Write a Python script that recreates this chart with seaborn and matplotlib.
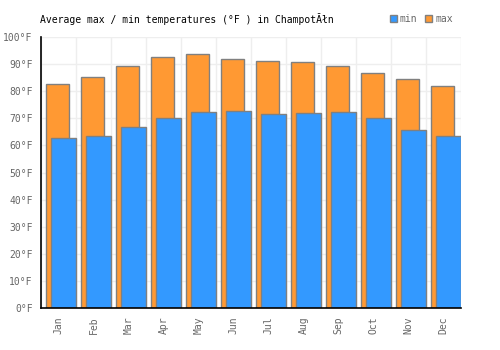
import numpy as np
import matplotlib
matplotlib.use("Agg")
import matplotlib.pyplot as plt
import seaborn as sns
from matplotlib.patches import Patch

months = ['Jan', 'Feb', 'Mar', 'Apr', 'May', 'Jun', 'Jul', 'Aug', 'Sep', 'Oct', 'Nov', 'Dec']
maxTemps = [82.7, 85.3, 89.3, 92.6, 93.6, 92.1, 91.0, 90.7, 89.2, 86.8, 84.5, 82.0]
minTemps = [62.7, 63.5, 66.9, 70.1, 72.2, 72.9, 71.5, 71.8, 72.2, 70.1, 65.8, 63.6]
yTicks = [0, 10, 20, 30, 40, 50, 60, 70, 80, 90, 100]

orange = '#ff9933'
blue = '#3399ff'
edge = '#808080'
textGray = '#666666'

sns.set_style("white")
plt.rcParams['font.family'] = ['DejaVu Sans Mono', 'DejaVu Sans']

fig = plt.figure(figsize=(5, 3.5), dpi=100)
ax = fig.add_axes([0.082, 0.12, 0.84, 0.774])

sns.barplot(x=months, y=maxTemps, color=orange, width=0.67, ax=ax,
            edgecolor=edge, linewidth=1, saturation=1)
nMax = len(ax.patches)
sns.barplot(x=months, y=minTemps, color=blue, width=0.71, ax=ax,
            edgecolor=edge, linewidth=1, saturation=1)
# shift the max bars slightly left and the min bars right so they overlap
for p in ax.patches[:nMax]:
    p.set_x(p.get_x() - 0.025)
for p in ax.patches[nMax:]:
    p.set_x(p.get_x() + 0.14)

ax.set_xlim(-0.5, 11.5)
ax.set_ylim(0, 100)
ax.set_yticks(yTicks)
ax.set_yticklabels([f'{t}°F' for t in yTicks])
ax.set_xticks(range(12))
ax.set_xticklabels(months, rotation=90)
ax.tick_params(axis='both', length=0, labelsize=7, colors=textGray, pad=6)

ax.set_axisbelow(True)
ax.grid(True, color='#eeeeee', linewidth=1)
ax.set_xticks(np.arange(-0.5, 12, 1), minor=True)
ax.xaxis.grid(False, which='major')
ax.xaxis.grid(True, which='minor', color='#eeeeee', linewidth=1)
ax.tick_params(axis='x', which='minor', length=0)

for side in ['top', 'right']:
    ax.spines[side].set_visible(False)
for side in ['left', 'bottom']:
    ax.spines[side].set_color('black')
    ax.spines[side].set_linewidth(1.2)
ax.set_xlabel('')
ax.set_ylabel('')

fig.text(0.08, 0.945, 'Average max / min temperatures (°F ) in ChampotĂłn',
         fontsize=7, color='black', va='center', ha='left')

handles = [Patch(facecolor=blue, edgecolor=edge, label='min'),
           Patch(facecolor=orange, edgecolor=edge, label='max')]
leg = fig.legend(handles=handles, loc='center right', bbox_to_anchor=(0.915, 0.945),
                 ncol=2, frameon=False, fontsize=7, handlelength=0.7, handleheight=0.7,
                 handletextpad=0.3, columnspacing=0.8, borderpad=0)
for t in leg.get_texts():
    t.set_color(textGray)

fig.savefig('out.png', dpi=100)
